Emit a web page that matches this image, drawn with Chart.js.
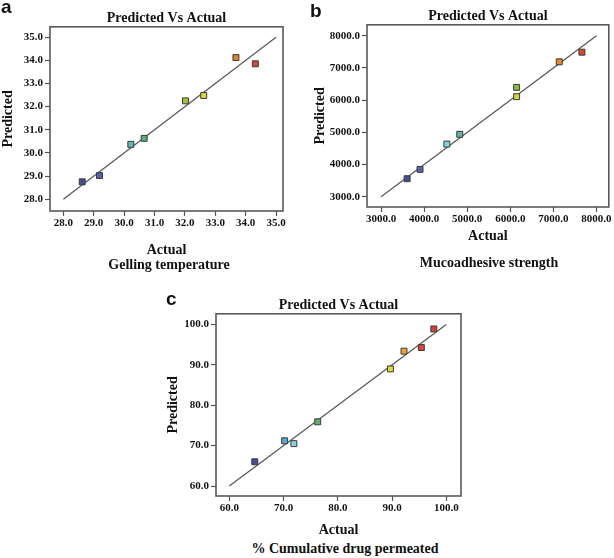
<!DOCTYPE html>
<html>
<head>
<meta charset="utf-8">
<script src="https://cdn.jsdelivr.net/npm/chart.js@4"></script>
<style>
  html, body { margin: 0; padding: 0; background: #fff; }
  #page { position: relative; width: 614px; height: 558px; overflow: hidden; background: #fff; }
  canvas { position: absolute; }
  .letter { position: absolute; font: bold 19px 'Liberation Sans', Arial, sans-serif; line-height: 19px; color: #111; }
  .sub { position: absolute; width: 240px; text-align: center; font: bold 14px 'Liberation Serif', 'Times New Roman', serif; line-height: 16px; color: #111; }
</style>
</head>
<body>
<div id="page">
  <canvas id="chartA" width="300" height="259" style="left:0px;top:0px;"></canvas>
  <canvas id="chartB" width="309" height="245" style="left:305px;top:0px;"></canvas>
  <canvas id="chartC" width="320" height="254" style="left:150px;top:285px;"></canvas>

  <div class="letter" style="left:1px;top:-3px;">a</div>
  <div class="letter" style="left:310px;top:1px;">b</div>
  <div class="letter" style="left:166px;top:289px;">c</div>

  <div class="sub" style="left:49px;top:257px;">Gelling temperature</div>
  <div class="sub" style="left:369px;top:255px;">Mucoadhesive strength</div>
  <div class="sub" style="left:225px;top:541px;">% Cumulative drug permeated</div>
</div>

<script>
/* ── Data: a – Gelling temperature ── */
const gelActual    = [28.62, 29.19, 30.22, 30.66, 32.02, 32.62, 33.68, 34.32];
const gelPredicted = [28.75, 29.02, 30.37, 30.63, 32.25, 32.48, 34.12, 33.85];
const gelTicks     = [28, 29, 30, 31, 32, 33, 34, 35];

/* ── Data: b – Mucoadhesive strength ── */
const mucoActual    = [3604, 3904, 4526, 4826, 6146, 6146, 7135, 7662];
const mucoPredicted = [3560, 3850, 4635, 4939, 6108, 6396, 7190, 7490];
const mucoTicks     = [3000, 4000, 5000, 6000, 7000, 8000];

/* ── Data: c – % Cumulative drug permeated ── */
const cdpActual    = [64.7, 70.2, 71.9, 76.3, 89.7, 92.2, 95.4, 97.7];
const cdpPredicted = [66.0, 71.2, 70.5, 75.9, 89.0, 93.4, 94.3, 98.9];
const cdpTicks     = [60, 70, 80, 90, 100];

/* ── Point colours (low → high) ── */
const colorsA = ['#474c98', '#5a60aa', '#62b8b4', '#5cae78', '#9cc43e', '#d8d83c', '#e2802c', '#cf4a3e'];
const colorsB = ['#474c98', '#5a60aa', '#86d4e4', '#5fb8a6', '#cfd63a', '#8fb84a', '#e38a2c', '#d24a38'];
const colorsC = ['#474c98', '#58a6d6', '#86d0e2', '#5fae6a', '#e2da3a', '#e8a432', '#d8483a', '#d64036'];

const SERIF = "'Liberation Serif', 'Times New Roman', serif";

/* ── Frame around the plot area ── */
const framePlugin = {
  id: 'frame',
  beforeDatasetsDraw(chart) {
    const { ctx, chartArea: a } = chart;
    ctx.save();
    ctx.strokeStyle = '#595959';
    ctx.lineWidth = 1.6;
    ctx.strokeRect(a.left, a.top, a.right - a.left, a.bottom - a.top);
    ctx.restore();
  }
};

function axis(opts) {
  return {
    type: 'linear',
    position: opts.position,
    min: opts.min,
    max: opts.max,
    border: { display: false },
    grid: {
      drawOnChartArea: false,
      drawTicks: true,
      tickLength: 5,
      tickWidth: 1.2,
      tickColor: '#555'
    },
    title: {
      display: true,
      text: opts.title,
      color: '#111',
      font: { family: SERIF, size: 14, weight: 'bold' },
      padding: opts.titlePadding
    },
    ticks: {
      autoSkip: false,
      maxRotation: 0,
      minRotation: 0,
      padding: opts.tickPadding,
      color: '#111',
      font: { family: SERIF, size: 11, weight: 'bold' },
      callback: v => Number(v).toFixed(1)
    },
    afterBuildTicks: scale => { scale.ticks = opts.ticks.map(v => ({ value: v })); },
    afterFit: scale => {
      if (opts.position === 'left') scale.width = opts.size;
      else scale.height = opts.size;
    }
  };
}

function makePanel(id, p) {
  const points = p.actual.map((x, i) => ({ x, y: p.predicted[i] }));
  const lo = p.ticks[0], hi = p.ticks[p.ticks.length - 1];

  return new Chart(document.getElementById(id), {
    type: 'scatter',
    data: {
      datasets: [
        {
          type: 'line',
          data: [{ x: lo, y: lo }, { x: hi, y: hi }],
          borderColor: '#5a5a5a',
          borderWidth: 1.3,
          pointRadius: 0,
          fill: false,
          order: 2
        },
        {
          data: points,
          pointStyle: 'rect',
          pointRadius: 4.2,
          pointBackgroundColor: p.colors,
          pointBorderColor: '#3a3a3a',
          pointBorderWidth: 1,
          order: 1
        }
      ]
    },
    options: {
      responsive: false,
      animation: false,
      devicePixelRatio: 1,
      layout: { padding: p.padding },
      plugins: {
        legend: { display: false },
        tooltip: { enabled: false },
        title: {
          display: true,
          text: 'Predicted Vs Actual',
          color: '#111',
          fullSize: false,
          font: { family: SERIF, size: 14, weight: 'bold' },
          padding: p.titlePadding
        }
      },
      scales: {
        x: axis({ position: 'bottom', min: p.xMin, max: p.xMax, ticks: p.ticks, title: 'Actual',
                  size: p.xSize, tickPadding: p.xTickPad, titlePadding: { top: 0, bottom: 0 } }),
        y: axis({ position: 'left', min: p.yMin, max: p.yMax, ticks: p.ticks, title: 'Predicted',
                  size: p.ySize, tickPadding: 2, titlePadding: { top: p.yTitleOffset, bottom: 0 } })
      }
    },
    plugins: [framePlugin]
  });
}

/* ── Build the three panels ── */
makePanel('chartA', {
  actual: gelActual, predicted: gelPredicted, ticks: gelTicks, colors: colorsA,
  xMin: 27.56, xMax: 35.23, yMin: 27.49, yMax: 35.45,
  padding: { left: 0, top: 0, right: 17, bottom: 0 },
  titlePadding: { top: 10, bottom: 0 },
  xSize: 48, ySize: 50, xTickPad: 1, yTitleOffset: 0
});

makePanel('chartB', {
  actual: mucoActual, predicted: mucoPredicted, ticks: mucoTicks, colors: colorsB,
  xMin: 2673, xMax: 8286, yMin: 2681, yMax: 8340,
  padding: { left: 0, top: 0, right: 3, bottom: 0 },
  titlePadding: { top: 8, bottom: 0 },
  xSize: 38, ySize: 62, xTickPad: 1, yTitleOffset: 7
});

makePanel('chartC', {
  actual: cdpActual, predicted: cdpPredicted, ticks: cdpTicks, colors: colorsC,
  xMin: 57.55, xMax: 102.71, yMin: 57.53, yMax: 102.65,
  padding: { left: 0, top: 0, right: 9, bottom: 0 },
  titlePadding: { top: 12, bottom: 0 },
  xSize: 43, ySize: 66, xTickPad: 1, yTitleOffset: 15
});
</script>
</body>
</html>
